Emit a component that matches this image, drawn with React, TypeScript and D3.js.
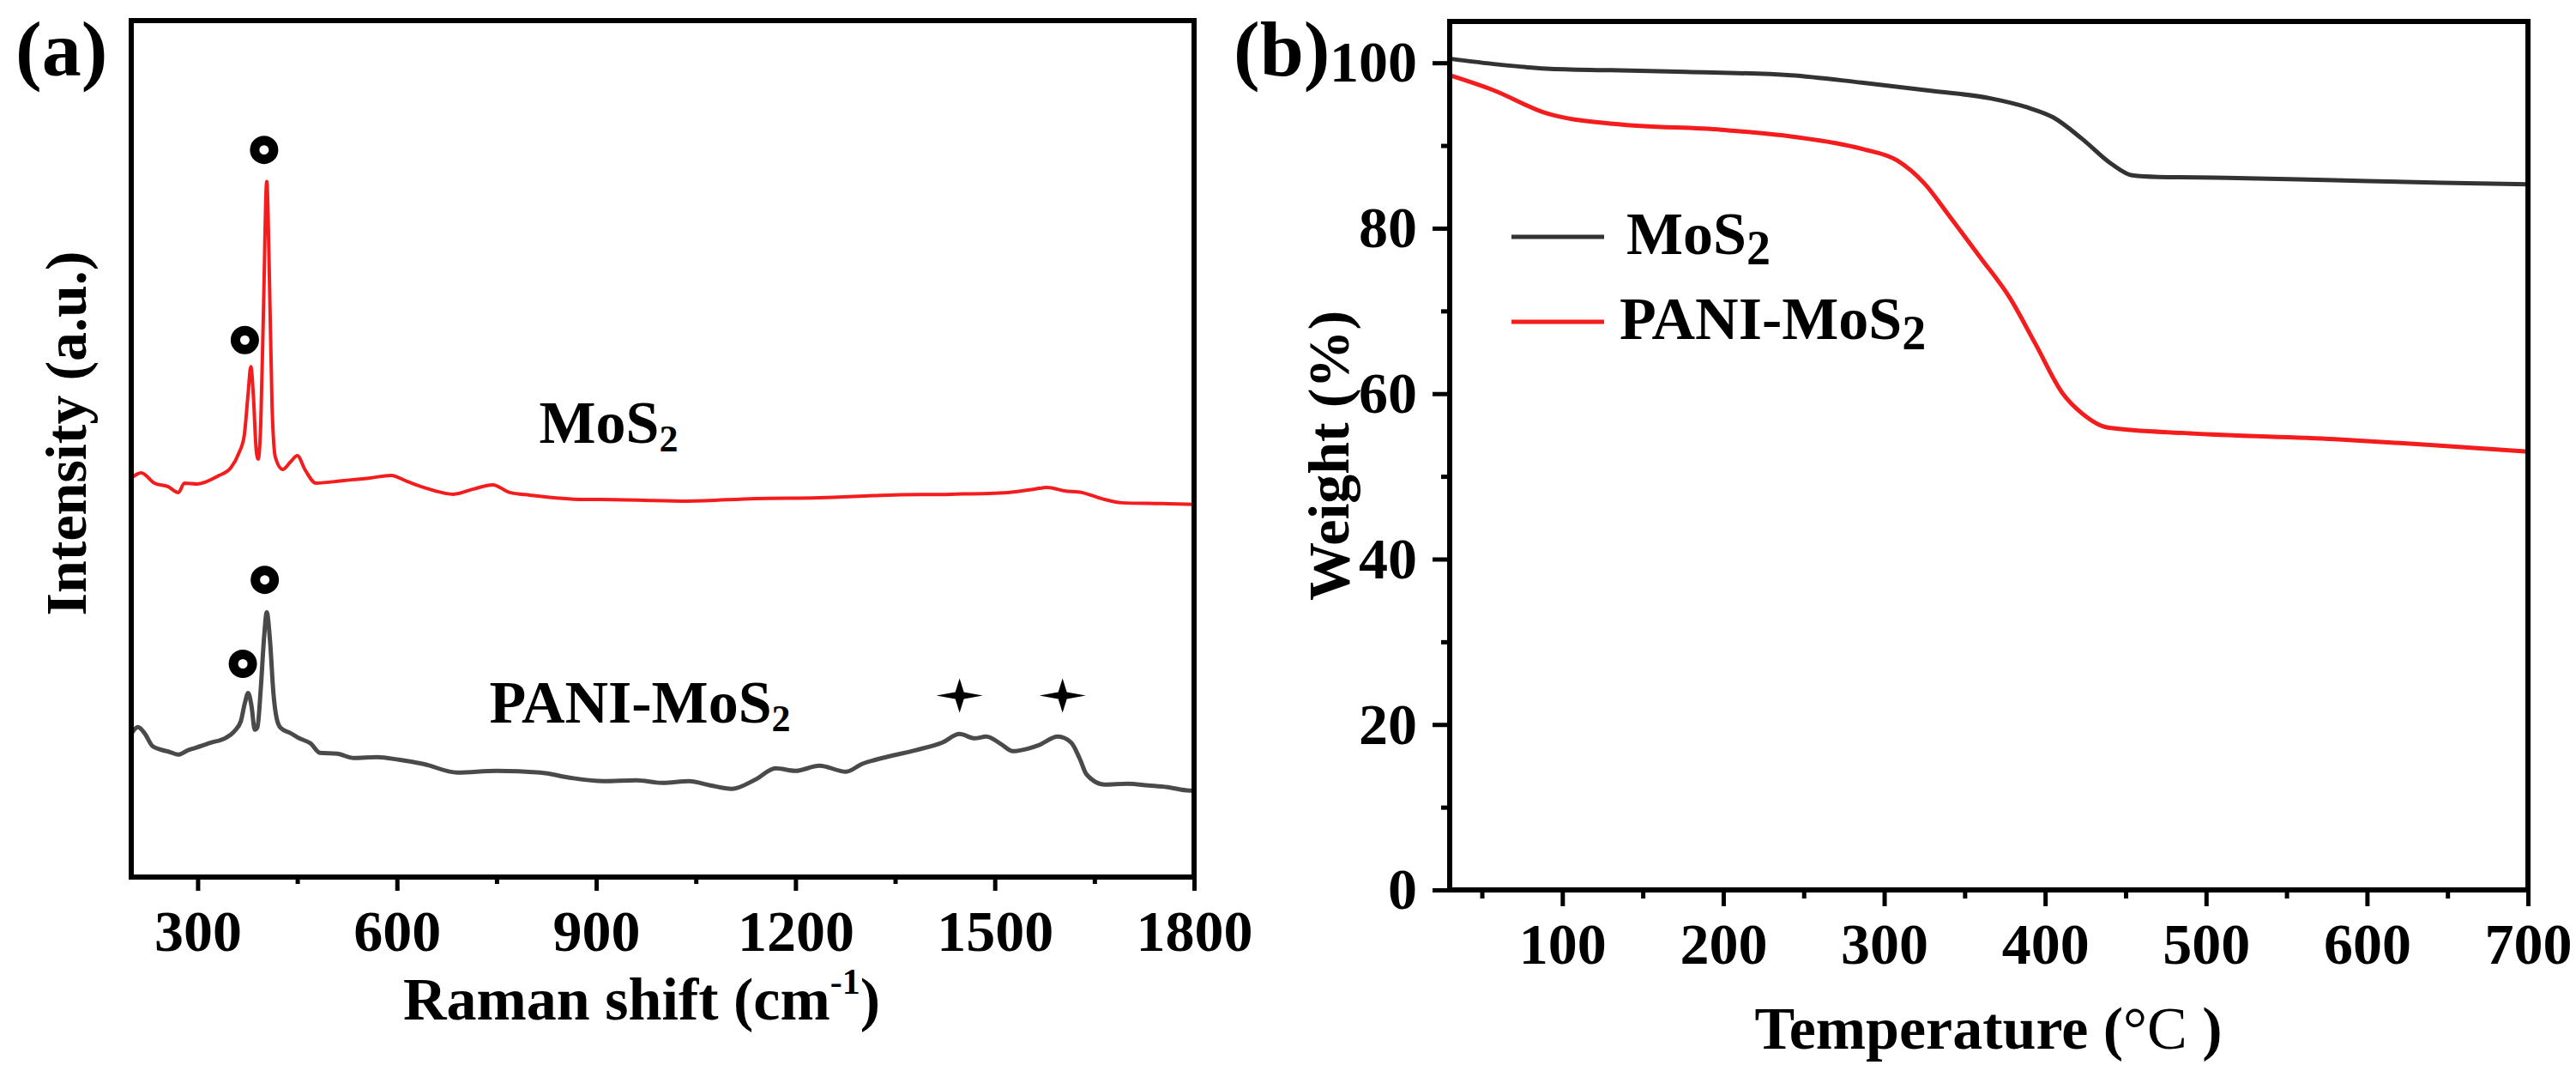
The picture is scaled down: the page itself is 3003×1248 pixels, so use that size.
import { useEffect, useRef } from "react"
import * as d3 from "d3"

// Raman spectra (a) — wavenumber (cm-1) and intensity (a.u.)
const ramanMoS2: [number, number][] = [
  [200, 46.6], [215, 47.2], [235, 46.0], [255, 45.6], [271, 44.9], [280, 46.0], [300, 45.9],
  [330, 46.8], [350, 47.8], [362, 49.5], [370, 51.5], [376, 56.5], [380, 59.6], [384, 56],
  [388, 50], [391, 48.8], [395, 53], [399, 66], [404, 81.2], [408, 70], [412, 55], [417, 49],
  [428, 47.6], [440, 48.5], [450, 49.2], [462, 47.5], [478, 46.0], [520, 46.3], [560, 46.6],
  [591, 46.9], [615, 46.2], [640, 45.5], [685, 44.7], [715, 45.3], [744, 45.8], [770, 44.9],
  [800, 44.6], [880, 44.1], [907, 44.1], [1038, 43.9], [1140, 44.2], [1236, 44.3], [1340, 44.6],
  [1434, 44.7], [1520, 44.9], [1560, 45.3], [1579, 45.5], [1605, 45.1], [1631, 44.9],
  [1660, 44.2], [1691, 43.7], [1750, 43.6], [1800, 43.5],
]

const ramanPani: [number, number][] = [
  [200, 16.7], [210, 17.5], [220, 16.8], [232, 15.3], [244, 14.9], [258, 14.6], [271, 14.3],
  [285, 14.8], [297, 15.1], [320, 15.7], [341, 16.2], [355, 17.0], [365, 18.2], [371, 20.3],
  [376, 21.5], [381, 20.0], [386, 17.2], [390, 17.5], [395, 22], [400, 28], [404, 30.9],
  [409, 27.5], [414, 21.5], [419, 18.5], [425, 17.4], [440, 16.8], [453, 16.2], [470, 15.6],
  [484, 14.5], [510, 14.4], [535, 13.9], [570, 14.0], [603, 13.7], [640, 13.2], [691, 12.2],
  [750, 12.4], [816, 12.2], [860, 11.6], [911, 11.2], [960, 11.3], [1000, 11.0], [1040, 11.2],
  [1072, 10.7], [1104, 10.3], [1140, 11.4], [1170, 12.7], [1200, 12.4], [1236, 13.0],
  [1276, 12.3], [1300, 13.2], [1336, 14.0], [1380, 14.8], [1421, 15.7], [1447, 16.7],
  [1470, 16.2], [1487, 16.4], [1510, 15.5], [1527, 14.7], [1550, 15.0], [1566, 15.4],
  [1595, 16.4], [1615, 15.7], [1628, 13.8], [1638, 12.0], [1665, 10.8], [1700, 10.9],
  [1731, 10.7], [1760, 10.5], [1793, 10.1], [1800, 10.1],
]

// peak markers (a): [wavenumber, intensity]
const circleMarks: [number, number][] = [[400, 84.9], [371, 62.7], [401, 34.7], [368, 24.9]]
const starMarks: [number, number][] = [[1447, 21.2], [1602, 21.2]]

// TGA curves (b) — temperature (°C) and weight (%)
const tgaMoS2: [number, number][] = [
  [30, 100.5], [60, 99.8], [90, 99.3], [130, 99.1], [177, 98.9], [242, 98.5], [286, 97.6],
  [330, 96.6], [366, 95.7], [389, 94.6], [405, 93.4], [423, 90.8], [441, 87.8], [454, 86.4],
  [470, 86.2], [513, 86.1], [580, 85.8], [647, 85.5], [700, 85.3],
]
const tgaPani: [number, number][] = [
  [30, 98.5], [57, 96.7], [90, 93.9], [133, 92.6], [199, 91.9], [242, 91.1], [286, 89.6],
  [308, 88.2], [325, 85.4], [340, 81.6], [360, 76.4], [378, 71.6], [394, 66.0], [411, 60.0],
  [423, 57.6], [439, 55.9], [490, 55.2], [580, 54.5], [647, 53.7], [700, 53.0],
]

const ramanMajor = [300, 600, 900, 1200, 1500, 1800]
const ramanMinor = [450, 750, 1050, 1350, 1650]
const tempMajor = [100, 200, 300, 400, 500, 600, 700]
const tempMinor = [50, 150, 250, 350, 450, 550, 650]
const weightMajor = [0, 20, 40, 60, 80, 100]
const weightMinor = [10, 30, 50, 70, 90]

const RED = "#f41c1c"
const FONT = "'Liberation Serif', 'Times New Roman', serif"

export default function App() {
  const svgRef = useRef<SVGSVGElement | null>(null)

  useEffect(() => {
    if (!svgRef.current) return
    const svg = d3.select(svgRef.current)
    svg.selectAll("*").remove()
    svg.attr("font-family", FONT).attr("font-weight", "bold")

    const styleAxis = (g: any, size: number) => {
      g.select(".domain").remove()
      g.selectAll(".tick line").attr("stroke", "#000").attr("stroke-width", 5)
      g.selectAll(".tick text").attr("fill", "#000").attr("font-size", size).attr("font-family", FONT)
    }

    // ---------- panel (a) ----------
    const xA = d3.scaleLinear().domain([200, 1800]).range([153, 1392])
    const yA = d3.scaleLinear().domain([0, 100]).range([1022, 24])

    const a = svg.append("g")

    a.append("g")
      .attr("transform", `translate(0,${yA(0)})`)
      .call(d3.axisBottom(xA).tickValues(ramanMinor).tickSize(8).tickFormat(() => ""))
      .call((g) => styleAxis(g, 68))
    a.append("g")
      .attr("transform", `translate(0,${yA(0)})`)
      .call(d3.axisBottom(xA).tickValues(ramanMajor).tickSize(16).tickPadding(22).tickFormat(d3.format("d")))
      .call((g) => styleAxis(g, 68))

    const lineA = d3.line<[number, number]>().x((d) => xA(d[0])).y((d) => yA(d[1])).curve(d3.curveMonotoneX)
    a.append("path").attr("d", lineA(ramanMoS2)).attr("fill", "none").attr("stroke", RED).attr("stroke-width", 4)
    a.append("path").attr("d", lineA(ramanPani)).attr("fill", "none").attr("stroke", "#4a4a4a").attr("stroke-width", 5)

    a.append("rect")
      .attr("x", xA(200)).attr("y", yA(100))
      .attr("width", xA(1800) - xA(200)).attr("height", yA(0) - yA(100))
      .attr("fill", "none").attr("stroke", "#000").attr("stroke-width", 6)

    a.selectAll(".ring")
      .data(circleMarks)
      .enter()
      .append("circle")
      .attr("cx", (d) => xA(d[0]))
      .attr("cy", (d) => yA(d[1]))
      .attr("r", 11)
      .attr("fill", "none")
      .attr("stroke", "#000")
      .attr("stroke-width", 11)

    const star = "M -27 0 L -5 -4 L 0 -20 L 5 -4 L 27 0 L 5 4 L 0 20 L -5 4 Z"
    a.selectAll(".star")
      .data(starMarks)
      .enter()
      .append("path")
      .attr("d", star)
      .attr("transform", (d) => `translate(${xA(d[0])},${yA(d[1])})`)
      .attr("fill", "#000")

    const lblMoS2 = a.append("text").attr("x", xA(814)).attr("y", yA(50.7)).attr("font-size", 70)
    lblMoS2.append("tspan").text("MoS")
    lblMoS2.append("tspan").attr("font-size", 44).attr("dy", 10).text("2")
    const lblPani = a.append("text").attr("x", xA(739)).attr("y", yA(18)).attr("font-size", 70)
    lblPani.append("tspan").text("PANI-MoS")
    lblPani.append("tspan").attr("font-size", 44).attr("dy", 10).text("2")

    a.append("text")
      .attr("transform", "translate(100,505) rotate(-90)")
      .attr("text-anchor", "middle")
      .attr("font-size", 68)
      .text("Intensity (a.u.)")

    const titleA = a.append("text").attr("x", 748).attr("y", 1188).attr("text-anchor", "middle").attr("font-size", 70)
    titleA.append("tspan").text("Raman shift (cm")
    titleA.append("tspan").attr("font-size", 42).attr("dy", -30).text("-1")
    titleA.append("tspan").attr("dy", 30).text(")")

    a.append("text").attr("x", 18).attr("y", 88).attr("font-size", 92).text("(a)")

    // ---------- panel (b) ----------
    const xB = d3.scaleLinear().domain([30, 700]).range([1690, 2947])
    const yB = d3.scaleLinear().domain([0, 105]).range([1037, 25])

    const b = svg.append("g")

    b.append("g")
      .attr("transform", `translate(0,${yB(0)})`)
      .call(d3.axisBottom(xB).tickValues(tempMinor).tickSize(10).tickFormat(() => ""))
      .call((g) => styleAxis(g, 68))
    b.append("g")
      .attr("transform", `translate(0,${yB(0)})`)
      .call(d3.axisBottom(xB).tickValues(tempMajor).tickSize(19).tickPadding(19).tickFormat(d3.format("d")))
      .call((g) => styleAxis(g, 68))
    b.append("g")
      .attr("transform", `translate(${xB(30)},0)`)
      .call(d3.axisLeft(yB).tickValues(weightMinor).tickSize(10).tickFormat(() => ""))
      .call((g) => styleAxis(g, 68))
    b.append("g")
      .attr("transform", `translate(${xB(30)},0)`)
      .call(d3.axisLeft(yB).tickValues(weightMajor).tickSize(20).tickPadding(18).tickFormat(d3.format("d")))
      .call((g) => styleAxis(g, 68))

    const lineB = d3.line<[number, number]>().x((d) => xB(d[0])).y((d) => yB(d[1])).curve(d3.curveMonotoneX)
    b.append("path").attr("d", lineB(tgaMoS2)).attr("fill", "none").attr("stroke", "#333").attr("stroke-width", 5)
    b.append("path").attr("d", lineB(tgaPani)).attr("fill", "none").attr("stroke", RED).attr("stroke-width", 5)

    b.append("rect")
      .attr("x", xB(30)).attr("y", yB(105))
      .attr("width", xB(700) - xB(30)).attr("height", yB(0) - yB(105))
      .attr("fill", "none").attr("stroke", "#000").attr("stroke-width", 6)

    // legend
    const legend = [
      { name: "MoS", color: "#333", y: 276, tx: 1896 },
      { name: "PANI-MoS", color: RED, y: 375, tx: 1888 },
    ]
    legend.forEach((l) => {
      b.append("line").attr("x1", 1762).attr("x2", 1870).attr("y1", l.y).attr("y2", l.y)
        .attr("stroke", l.color).attr("stroke-width", 5)
      const t = b.append("text").attr("x", l.tx).attr("y", l.y + 20).attr("font-size", 70)
      t.append("tspan").text(l.name)
      t.append("tspan").attr("font-size", 56).attr("dy", 12).text("2")
    })

    b.append("text")
      .attr("transform", "translate(1572,531) rotate(-90)")
      .attr("text-anchor", "middle")
      .attr("font-size", 68)
      .text("Weight (%)")

    const titleB = b.append("text").attr("x", 2318).attr("y", 1222).attr("text-anchor", "middle").attr("font-size", 70)
    titleB.append("tspan").text("Temperature (")
    titleB.append("tspan").attr("font-weight", "normal").text("°C")
    titleB.append("tspan").text(" )")

    b.append("text").attr("x", 1438).attr("y", 88).attr("font-size", 92).text("(b)")
  }, [])

  return (
    <svg
      ref={svgRef}
      width={3003}
      height={1248}
      style={{ position: "absolute", left: 0, top: 0, background: "#fff" }}
    ></svg>
  )
}
